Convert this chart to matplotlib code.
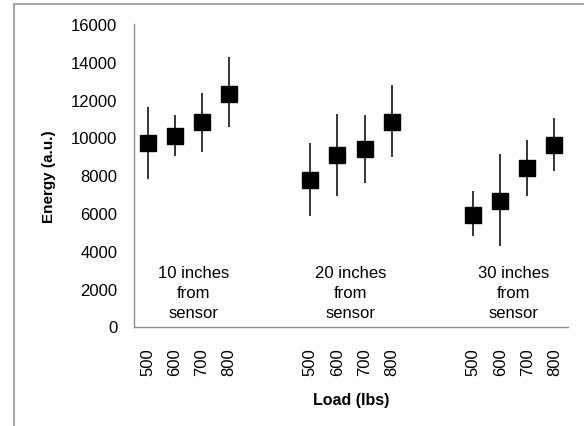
import numpy as np
import matplotlib
matplotlib.use('Agg')
import matplotlib.pyplot as plt
from matplotlib.lines import Line2D

plt.rcParams['font.family'] = ['Liberation Sans', 'DejaVu Sans']

# category slots along x (blank slots give the gaps between groups)
categories = ['500', '600', '700', '800', '', '',
              '500', '600', '700', '800', '', '',
              '500', '600', '700', '800']
group_labels = ['10 inches\nfrom\nsensor', '20 inches\nfrom\nsensor', '30 inches\nfrom\nsensor']

# energy for 500,600,700,800 lbs at each distance
energy_10 = [9690, 10060, 10800, 12300]
energy_20 = [7750, 9070, 9390, 10840]
energy_30 = [5900, 6650, 8380, 9620]
err_up_10 = [1900, 1130, 1530, 1940]
err_dn_10 = [1890, 1030, 1550, 1760]
err_up_20 = [1940, 2170, 1800, 1930]
err_dn_20 = [1890, 2180, 1820, 1860]
err_up_30 = [1280, 2470, 1500, 1410]
err_dn_30 = [1130, 2410, 1460, 1380]

fig = plt.figure(figsize=(5.84, 4.27), dpi=100)
ax = fig.add_axes([134/584, 99.5/427, 434/584, 302.5/427])

xpos = np.arange(len(categories))
filled = [i for i, c in enumerate(categories) if c]
energy = energy_10 + energy_20 + energy_30
err_up = err_up_10 + err_up_20 + err_up_30
err_dn = err_dn_10 + err_dn_20 + err_dn_30

ax.errorbar(xpos[filled], energy, yerr=[err_dn, err_up], fmt='s', color='black',
            ms=12, elinewidth=1.1, capsize=0, ecolor='black')

# group captions
for k, lab in enumerate(group_labels):
    cx = np.mean(xpos[filled][4*k:4*k+4])
    if k == 0:
        cx += 0.2
    ax.text(cx, 1800, lab, ha='center', va='center', fontsize=12, linespacing=1.38)

ax.set_xlim(-0.5, len(categories) - 0.5)
ax.set_ylim(0, 16000)
ax.set_yticks(np.arange(0, 16001, 2000))
ax.set_xticks(xpos)
ax.set_xticklabels(categories, rotation=90, fontsize=12)
ax.tick_params(axis='y', length=0, pad=12, labelsize=12)
ax.tick_params(axis='x', length=0, pad=15)
for s in ['top', 'right']:
    ax.spines[s].set_visible(False)
for s in ['left', 'bottom']:
    ax.spines[s].set_color('#8c8c8c')
    ax.spines[s].set_linewidth(1.0)

ax.set_ylabel('Energy (a.u.)', fontsize=11, fontweight='bold', labelpad=11)
ax.set_xlabel('Load (lbs)', fontsize=11.5, fontweight='bold', labelpad=12)

# outer chart frame (only left and top edges visible)
x0, y0 = 14/584, 1 - 5/427
fig.add_artist(Line2D([x0, x0], [0, y0], color='#a6a6a6', lw=1.5))
fig.add_artist(Line2D([x0, 1], [y0, y0], color='#a6a6a6', lw=1.5))

fig.savefig('out.png', dpi=100)
